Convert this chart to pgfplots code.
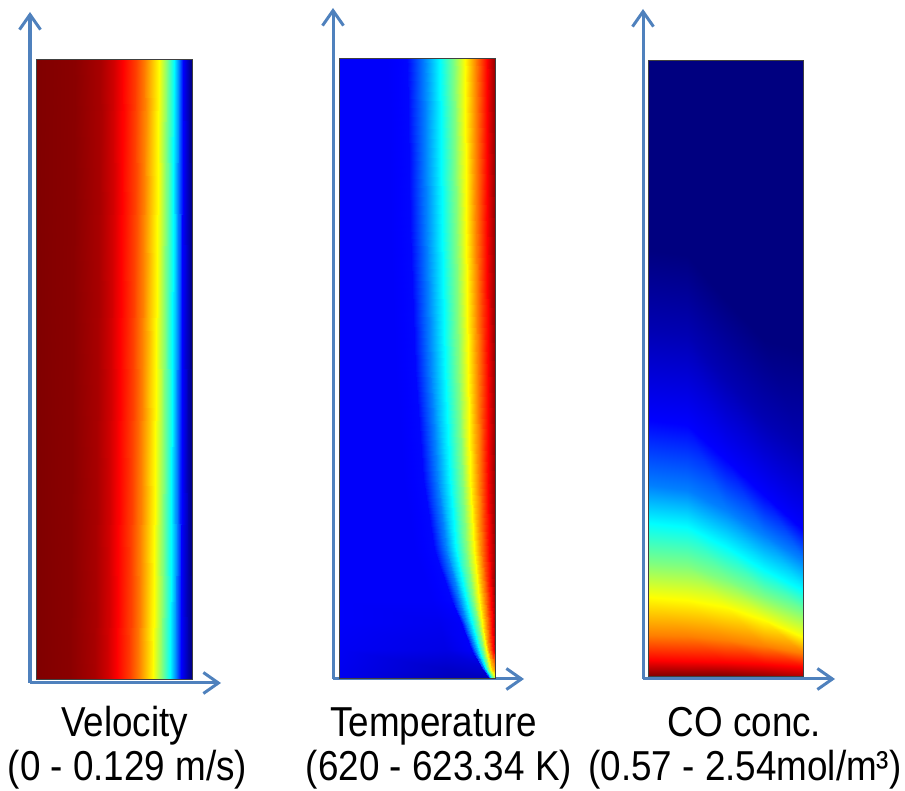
\documentclass[border=0pt]{standalone}
\usepackage{fontspec}
\setmainfont{Liberation Sans}[FakeStretch=0.88]
\usepackage{pgfplots}
\usepackage{pgfplotstable}
\pgfplotsset{compat=1.18}
\usetikzlibrary{arrows.meta}
\definecolor{arrowblue}{RGB}{79,129,189}

% velocity: rows are y = 0 and y = 620, columns are colour levels
\pgfplotstableread{
x y c
0 0 1.0
34.3 0 0.99
59.3 0 0.96
71.8 0 0.92
81.1 0 0.875
93.6 0 0.8125
103 0 0.75
117 0 0.625
126.4 0 0.5
134.2 0 0.375
139.6 0 0.25
145.1 0 0.125
152.1 0 0.04
156 0 0.0
0 620 1.0
39 620 0.99
65.5 620 0.96
78 620 0.92
87.4 620 0.875
99.8 620 0.8125
109.2 620 0.75
123.2 620 0.625
131 620 0.5
138.1 620 0.375
142.7 620 0.25
147.4 620 0.125
152.9 620 0.04
156 620 0.0
}\velocity

% temperature: thermal layer along the right wall
\pgfplotstableread{
x y c
0 0 0.11
110 0 0.06
150 0 0.06
151 0 0.2
152 0 0.33
153 0 0.42
153.8 0 0.48
154.6 0 0.52
155.4 0 0.55
156 0 0.55
0 9 0.11
108 9 0.07
142.5 9 0.08
144.7 9 0.25
147 9 0.375
149.3 9 0.5
151 9 0.6
152.8 9 0.68
154.6 9 0.72
156 9 0.72
0 29 0.115
106 29 0.10
132 29 0.12
136 29 0.25
140 29 0.375
144.1 29 0.5
147.2 29 0.625
150.4 29 0.75
153.6 29 0.875
156 29 0.95
0 55 0.12
101 55 0.11
121.5 55 0.12
127.2 55 0.25
133 55 0.375
138.9 55 0.5
143.3 55 0.625
148 55 0.75
152.5 55 0.875
156 55 0.97
0 79 0.12
92 79 0.12
112 79 0.13
119.7 79 0.25
127 79 0.375
134.4 79 0.5
140 79 0.625
145.8 79 0.75
151.6 79 0.875
156 79 0.98
0 129 0.12
75 129 0.12
95 129 0.13
106.5 129 0.25
117 129 0.375
127 129 0.5
134.5 129 0.625
142.3 129 0.75
150.1 129 0.875
156 129 0.98
0 200 0.12
64 200 0.12
84 200 0.13
97.5 200 0.25
111 200 0.375
122.5 200 0.5
131.2 200 0.625
140.2 200 0.75
149.2 200 0.875
156 200 0.98
0 309 0.12
56 309 0.12
76 309 0.13
91 309 0.25
106 309 0.375
118.7 309 0.5
128.5 309 0.625
138.5 309 0.75
148.5 309 0.875
156 309 0.98
0 450 0.12
51 450 0.12
71.2 450 0.13
87.1 450 0.25
103 450 0.375
116.5 450 0.5
126.8 450 0.625
137.4 450 0.75
148 450 0.875
156 450 0.98
0 620 0.12
48 620 0.12
68 620 0.13
84.5 620 0.25
101 620 0.375
115 620 0.5
126 620 0.625
137 620 0.75
148 620 0.875
156 620 0.98
}\temperature

% CO concentration: rows follow the colour levels
\pgfplotstableread{
x y c
0 0 1.0
38.75 0 1.0
77.5 0 1.0
116.25 0 0.98
155 0 0.95
0 16 0.875
38.75 15 0.875
77.5 14 0.875
116.25 12 0.875
155 9 0.875
0 41 0.75
38.75 40 0.75
77.5 36 0.75
116.25 30 0.75
155 23 0.75
0 79 0.625
38.75 76 0.625
77.5 69 0.625
116.25 56 0.625
155 39 0.625
0 113 0.5
38.75 110 0.5
77.5 96 0.5
116.25 79 0.5
155 63 0.5
0 153 0.375
38.75 149 0.375
77.5 129 0.375
116.25 106 0.375
155 86 0.375
0 191 0.25
38.75 186 0.25
77.5 166 0.25
116.25 141 0.25
155 116 0.25
0 256 0.125
38.75 251 0.125
77.5 216 0.125
116.25 181 0.125
155 146 0.125
0 346 0.05
38.75 341 0.05
77.5 296 0.05
116.25 256 0.05
155 226 0.05
0 426 0.0
38.75 421 0.0
77.5 376 0.0
116.25 336 0.0
155 326 0.0
0 616 0.0
38.75 616 0.0
77.5 616 0.0
116.25 616 0.0
155 616 0.0
}\coconc

\pgfplotsset{
  field/.style={
    x=1bp, y=1bp, anchor=south west,
    axis lines*=left, ticks=none,
    axis line style={arrowblue, line width=3bp, -{Straight Barb[length=15bp,width=21bp]}},
    colormap/jet, point meta min=0, point meta max=1,
  },
  frame/.style={draw=black!75, line width=0.8bp},
}

\begin{document}
\begin{tikzpicture}
\useasboundingbox (0,0) rectangle (905bp,791bp);

\begin{axis}[field, at={(30bp,108bp)}, xmin=-6, xmax=185, ymin=-4, ymax=667]
\addplot[surf, shader=interp, mesh/cols=14, point meta=explicit] table[x=x, y=y, meta=c] {\velocity};
\addplot[frame] coordinates {(0,0) (156,0) (156,620) (0,620) (0,0)};
\end{axis}

\begin{axis}[field, at={(333bp,112bp)}, xmin=-6, xmax=185, ymin=-1, ymax=670]
\addplot[surf, shader=interp, mesh/cols=10, point meta=explicit] table[x=x, y=y, meta=c] {\temperature};
\addplot[frame] coordinates {(0,0) (156,0) (156,620) (0,620) (0,0)};
\end{axis}

\begin{axis}[field, at={(643bp,112bp)}, xmin=-5, xmax=187, ymin=-3, ymax=667]
\addplot[surf, shader=interp, mesh/cols=5, point meta=explicit] table[x=x, y=y, meta=c] {\coconc};
\addplot[frame] coordinates {(0,0) (155,0) (155,616) (0,616) (0,0)};
\end{axis}

\tikzset{lab/.style={anchor=base, font=\fontsize{42}{48}\selectfont}}
\node[lab] at (124.5bp,54bp) {Velocity};
\node[lab] at (127.5bp,11bp) {(0 - 0.129 m/s)};
\node[lab] at (433.5bp,54bp) {Temperature};
\node[lab] at (439bp,11bp) {(620 - 623.34 K)};
\node[lab] at (744.5bp,54bp) {CO conc.};
\node[lab] at (745bp,11bp) {(0.57 - 2.54mol/m³)};
\end{tikzpicture}
\end{document}
